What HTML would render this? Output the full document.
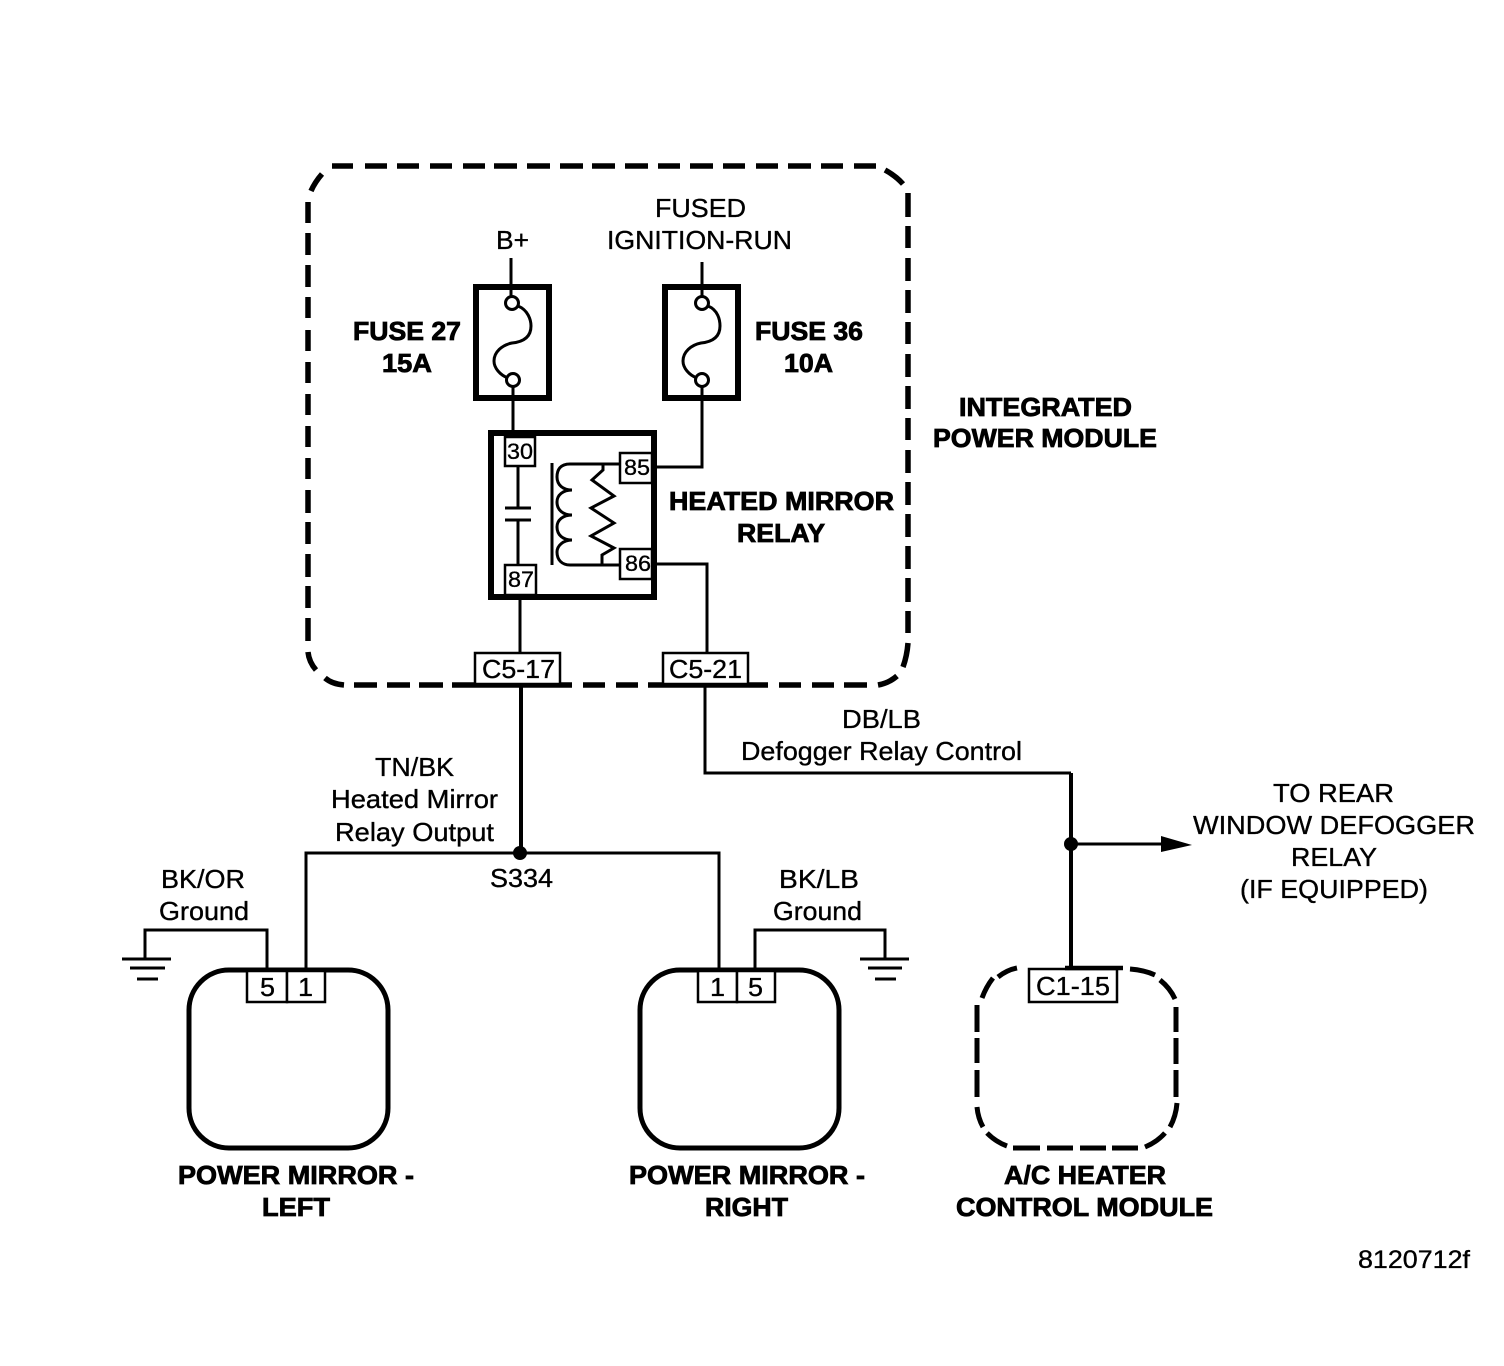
<!DOCTYPE html>
<html><head><meta charset="utf-8"><style>
html,body{margin:0;padding:0;background:#fff}
svg{display:block}
text{font-family:"Liberation Sans",sans-serif;font-size:26px;fill:#000;stroke:#000;stroke-width:.35px}
.b{font-weight:bold;stroke-width:.8px}
.p{font-size:22px}
.m{font-size:25px}
</style></head><body>
<svg width="1504" height="1366" viewBox="0 0 1504 1366" xmlns="http://www.w3.org/2000/svg">
<rect width="1504" height="1366" fill="#fff"/>
<g fill="none" stroke="#000" stroke-linecap="butt">
<!-- IPM dashed -->
<g stroke-width="5.5">
<path d="M332,166H353M365,166H387M397,166H419M430,166H452M463,166H485M494,166H517M527,166H550M560,166H583M592,166H615M625,166H648M658,166H680M690,166H713M723,166H745M756,166H778M788,166H811M821,166H843M854,166H876"/>
<path d="M885,170Q896,176 903,184M908,193V217M908,226V248M908,258V281M908,290V313M908,322V344M908,354V377M908,386V409M908,418V440M908,450V473M908,482V505M908,514V537M908,546V569M908,578V602M908,611V633"/>
<path d="M908,643Q907,656 903,667M897,676Q889,683 878,685M867,685H844M834,685H812M801,685H779M768,685H648M638,685H616M605,685H583M572,685H452M443,685H419M410,685H387M377,685H354M344,685Q332,684 325,678"/>
<path d="M316,670Q309,662 308,652M308,641V618M308,608V586M308,577V554M308,544V522M308,513V490M308,479V458M308,447V426M308,415V394M308,383V362M308,351V330M308,318V297M308,287V265M308,255V233M308,223V202M311,191Q315,182 322,174"/>
</g>
<!-- Fuses -->
<rect x="476" y="287" width="73" height="111" stroke-width="6"/>
<rect x="665" y="287" width="73" height="111" stroke-width="6"/>
<g stroke-width="3">
<path d="M511,258V297M513,386V433M702,262V297M702,386V467H655"/>
<circle cx="512" cy="303" r="6.5"/><circle cx="513" cy="380" r="6.5"/>
<circle cx="702" cy="303" r="6.5"/><circle cx="702" cy="380" r="6.5"/>
<path d="M518,306C528,310 531,320 531,326C531,338 522,342 512,343C502,345 494,352 494,361C494,368 500,375 508,378"/>
<path d="M708,306C718,310 720,320 720,326C720,338 711,342 701,343C691,345 683,352 683,361C683,368 689,375 697,378"/>
</g>
<!-- Relay -->
<rect x="491" y="433" width="163" height="164" stroke-width="6"/>
<g stroke-width="3">
<path d="M518,466V507M505,508H531M505,520H531M518,520V564"/>
<path d="M552,463V565" />
<path d="M621,464H570C560,464 557,470 557,477C557,485 563,490 572,490C563,490 557,495 557,502C557,510 563,515 572,515C563,515 557,520 557,527C557,535 563,540 572,540C563,540 557,546 557,552C557,560 562,565 570,565H621"/>
<path d="M603,464V470L592,480L614,496L591,508L614,523L591,536L614,548L602,555V565"/>
<path d="M654,467H702M655,564H707V654M520,597V654"/>
</g>
<!-- Pin boxes -->
<g stroke-width="2.5" fill="#fff">
<rect x="505" y="437" width="30" height="29"/>
<rect x="505" y="565" width="31" height="30"/>
<rect x="620" y="453" width="32" height="30"/>
<rect x="620" y="549" width="32" height="30"/>
<rect x="475" y="653" width="85" height="31"/>
<rect x="663" y="653" width="85" height="31"/>
</g>
<!-- Lower wires -->
<path d="M521,686V853" stroke-width="4"/>
<path d="M705,686V773H1071" stroke-width="3"/>
<path d="M1071,773V968" stroke-width="4"/>
<path d="M306,968V853H719V968" stroke-width="3"/>
<path d="M1071,844H1162" stroke-width="3"/>
<path d="M267,968V930H145V959M755,968V930H885V959" stroke-width="3"/>
<path d="M122,959H171M130,968H165M137,979H158M860,959H909M868,968H902M875,979H896" stroke-width="3"/>
<!-- Mirrors -->
<rect x="189" y="970" width="199" height="178" rx="40" stroke-width="5"/>
<rect x="640" y="970" width="199" height="178" rx="40" stroke-width="5"/>
<path stroke-width="5" d="M998,977Q1007,970 1017,968M1130,969Q1144,970 1155,975M1160,980Q1170,988 1175,999M1176,1007V1032M1176,1038V1064M1176,1070V1097M1177,1103Q1176,1116 1170,1127M1165,1133Q1157,1142 1145,1147M1138,1148H1112M1106,1148H1080M1073,1148H1047M1040,1148H1013M1007,1146Q996,1142 987,1133M983,1127Q978,1118 977,1107M977,1097V1070M977,1063V1038M977,1032V1005M982,998Q986,987 993,978"/>
<g stroke-width="2.5" fill="#fff">
<rect x="247" y="971" width="40" height="31"/>
<rect x="287" y="971" width="38" height="31"/>
<rect x="698" y="971" width="39" height="31"/>
<rect x="737" y="971" width="38" height="31"/>
<rect x="1029" y="969" width="88" height="33"/>
</g>
</g>
<path d="M1065,968H1123" stroke="#000" stroke-width="4.5" fill="none"/>
<circle cx="520" cy="853" r="7" fill="#000"/>
<circle cx="1071" cy="844" r="7" fill="#000"/>
<path d="M1161,836L1192,845L1161,852Z" fill="#000"/>
<!-- Text -->
<text x="496" y="249" textLength="33" lengthAdjust="spacingAndGlyphs">B+</text>
<text x="655" y="217" textLength="91" lengthAdjust="spacingAndGlyphs">FUSED</text>
<text x="607" y="249" textLength="185" lengthAdjust="spacingAndGlyphs">IGNITION-RUN</text>
<text class="b" x="353" y="340" textLength="108" lengthAdjust="spacingAndGlyphs">FUSE 27</text>
<text class="b" x="382" y="372" textLength="50" lengthAdjust="spacingAndGlyphs">15A</text>
<text class="b" x="755" y="340" textLength="108" lengthAdjust="spacingAndGlyphs">FUSE 36</text>
<text class="b" x="784" y="372" textLength="49" lengthAdjust="spacingAndGlyphs">10A</text>
<text class="b" x="959" y="416" textLength="173" lengthAdjust="spacingAndGlyphs">INTEGRATED</text>
<text class="b" x="933" y="447" textLength="224" lengthAdjust="spacingAndGlyphs">POWER MODULE</text>
<text class="b" x="669" y="510" textLength="225" lengthAdjust="spacingAndGlyphs">HEATED MIRROR</text>
<text class="b" x="737" y="542" textLength="88" lengthAdjust="spacingAndGlyphs">RELAY</text>
<text class="p" x="507" y="459" textLength="26" lengthAdjust="spacingAndGlyphs">30</text>
<text class="p" x="508" y="587" textLength="26" lengthAdjust="spacingAndGlyphs">87</text>
<text class="p" x="624" y="475" textLength="26" lengthAdjust="spacingAndGlyphs">85</text>
<text class="p" x="625" y="571" textLength="26" lengthAdjust="spacingAndGlyphs">86</text>
<text x="482" y="678" textLength="73" lengthAdjust="spacingAndGlyphs">C5-17</text>
<text x="669" y="678" textLength="73" lengthAdjust="spacingAndGlyphs">C5-21</text>
<text x="842" y="728" textLength="79" lengthAdjust="spacingAndGlyphs">DB/LB</text>
<text x="741" y="760" textLength="281" lengthAdjust="spacingAndGlyphs">Defogger Relay Control</text>
<text x="375" y="776" textLength="79" lengthAdjust="spacingAndGlyphs">TN/BK</text>
<text x="331" y="808" textLength="167" lengthAdjust="spacingAndGlyphs">Heated Mirror</text>
<text x="335" y="841" textLength="159" lengthAdjust="spacingAndGlyphs">Relay Output</text>
<text x="490" y="887" textLength="63" lengthAdjust="spacingAndGlyphs">S334</text>
<text x="161" y="888" textLength="84" lengthAdjust="spacingAndGlyphs">BK/OR</text>
<text x="159" y="920" textLength="90" lengthAdjust="spacingAndGlyphs">Ground</text>
<text x="779" y="888" textLength="80" lengthAdjust="spacingAndGlyphs">BK/LB</text>
<text x="773" y="920" textLength="89" lengthAdjust="spacingAndGlyphs">Ground</text>
<text x="1273" y="802" textLength="121" lengthAdjust="spacingAndGlyphs">TO REAR</text>
<text x="1193" y="834" textLength="282" lengthAdjust="spacingAndGlyphs">WINDOW DEFOGGER</text>
<text x="1291" y="866" textLength="86" lengthAdjust="spacingAndGlyphs">RELAY</text>
<text x="1240" y="898" textLength="188" lengthAdjust="spacingAndGlyphs">(IF EQUIPPED)</text>
<text x="260" y="996" textLength="15" lengthAdjust="spacingAndGlyphs">5</text>
<text x="298" y="996" textLength="15" lengthAdjust="spacingAndGlyphs">1</text>
<text x="710" y="996" textLength="15" lengthAdjust="spacingAndGlyphs">1</text>
<text x="748" y="996" textLength="15" lengthAdjust="spacingAndGlyphs">5</text>
<text x="1036" y="995" textLength="74" lengthAdjust="spacingAndGlyphs">C1-15</text>
<text class="b" x="178" y="1184" textLength="236" lengthAdjust="spacingAndGlyphs">POWER MIRROR -</text>
<text class="b" x="262" y="1216" textLength="68" lengthAdjust="spacingAndGlyphs">LEFT</text>
<text class="b" x="629" y="1184" textLength="236" lengthAdjust="spacingAndGlyphs">POWER MIRROR -</text>
<text class="b" x="705" y="1216" textLength="83" lengthAdjust="spacingAndGlyphs">RIGHT</text>
<text class="b" x="1004" y="1184" textLength="162" lengthAdjust="spacingAndGlyphs">A/C HEATER</text>
<text class="b" x="956" y="1216" textLength="257" lengthAdjust="spacingAndGlyphs">CONTROL MODULE</text>
<text class="m" x="1358" y="1268" textLength="112" lengthAdjust="spacingAndGlyphs">8120712f</text>
</svg>
</body></html>
